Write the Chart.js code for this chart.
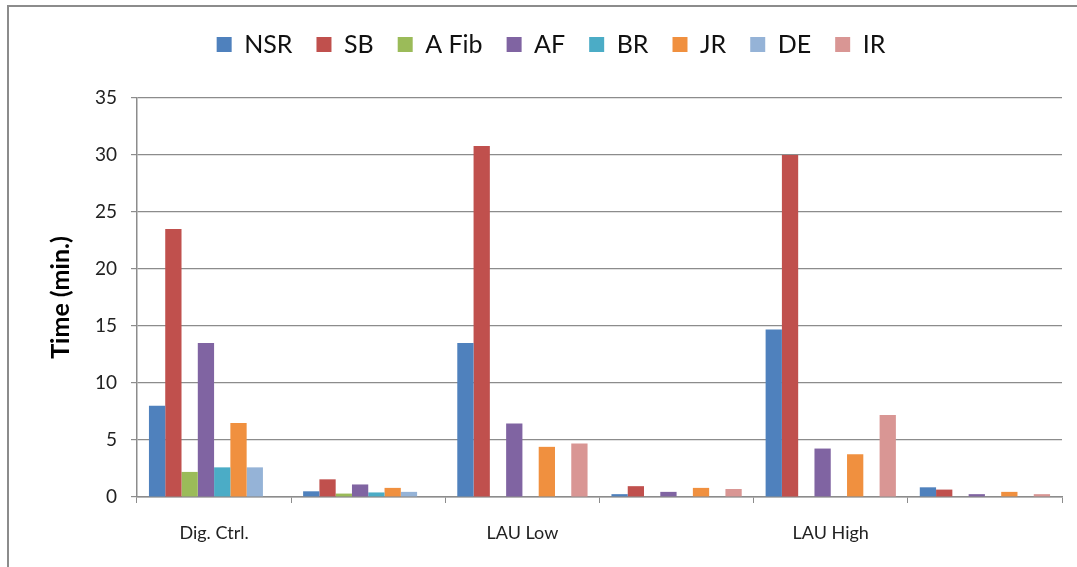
<!DOCTYPE html>
<html>
<head>
<meta charset="utf-8">
<script src="https://cdn.jsdelivr.net/npm/chart.js@4.4.1/dist/chart.umd.min.js"></script>
<style>
  html, body { margin: 0; padding: 0; background: #fff; }
  #wrap { position: relative; width: 1077px; height: 567px; }
  #frame {
    position: absolute; left: 7px; top: 5px; right: 0; bottom: 0;
    border-top: 2px solid #8c8c8c; border-left: 2px solid #8c8c8c;
    pointer-events: none;
  }
</style>
</head>
<body>
<div id="wrap">
  <canvas id="rhythmChart" width="1077" height="567"></canvas>
  <div id="frame"></div>
</div>
<script>
// time spent in each rhythm, minutes
var groups = ['Dig. Ctrl.', '', 'LAU Low', '', 'LAU High', ''];

var nsr  = [8.0, 0.5, 13.5, 0.25, 14.7, 0.85];
var sb   = [23.5, 1.55, 30.8, 0.95, 30.0, 0.65];
var aFib = [2.2, 0.3, 0, 0, 0, 0];
var af   = [13.5, 1.1, 6.45, 0.45, 4.25, 0.25];
var br   = [2.6, 0.4, 0, 0, 0, 0];
var jr   = [6.5, 0.8, 4.4, 0.8, 3.75, 0.45];
var de   = [2.6, 0.45, 0, 0, 0, 0];
var ir   = [0, 0, 4.7, 0.7, 7.2, 0.25];

var yTicks = [0, 5, 10, 15, 20, 25, 30, 35];

var series = [
	{label: 'NSR',   data: nsr,  color: '#4f81bd'},
	{label: 'SB',    data: sb,   color: '#c0504d'},
	{label: 'A Fib', data: aFib, color: '#9bbb59'},
	{label: 'AF',    data: af,   color: '#8064a2'},
	{label: 'BR',    data: br,   color: '#4bacc6'},
	{label: 'JR',    data: jr,   color: '#f0903f'},
	{label: 'DE',    data: de,   color: '#95b3d7'},
	{label: 'IR',    data: ir,   color: '#d99694'}
];

var FONT = 'Lato, "Liberation Sans", sans-serif';

// legend band is taller than chart.js would make it
var legendBand = {
	id: 'legendBand',
	afterInit: function(chart) {
		var lg = chart.legend;
		var fit = lg.fit;
		lg.fit = function() {
			fit.call(this);
			this.height = 90;
		};
	}
};

var datasets = series.map(function(s) {
	return {
		label: s.label,
		data: s.data,
		backgroundColor: s.color,
		borderWidth: 0,
		categoryPercentage: 0.845,
		barPercentage: 1.0
	};
});

new Chart(document.getElementById('rhythmChart'), {
	type: 'bar',
	data: {labels: groups, datasets: datasets},
	plugins: [legendBand],
	options: {
		responsive: false,
		animation: false,
		layout: {padding: {left: 40, right: 15, top: 8, bottom: 0}},
		plugins: {
			tooltip: {enabled: false},
			legend: {
				position: 'top',
				labels: {
					boxWidth: 15,
					boxHeight: 15,
					padding: 24,
					color: '#111',
					font: {family: FONT, size: 25}
				}
			}
		},
		scales: {
			x: {
				grid: {
					offset: true,
					drawOnChartArea: false,
					drawTicks: true,
					tickLength: 6,
					color: '#8c8c8c'
				},
				border: {color: '#8c8c8c', width: 1.5},
				ticks: {
					color: '#222',
					padding: 19,
					font: {family: FONT, size: 18}
				},
				afterFit: function(scale) { scale.height = 70; }
			},
			y: {
				min: 0,
				max: 35,
				afterBuildTicks: function(scale) {
					scale.ticks = yTicks.map(function(v) { return {value: v}; });
				},
				grid: {
					color: '#8c8c8c',
					lineWidth: 1.2,
					tickLength: 6
				},
				border: {color: '#8c8c8c', width: 1.5},
				ticks: {
					color: '#222',
					padding: 14,
					font: {family: FONT, size: 19}
				},
				title: {
					display: true,
					text: 'Time (min.)',
					color: '#000',
					padding: {top: 6, bottom: 0},
					font: {family: FONT, size: 25, weight: 'bold'}
				},
				afterFit: function(scale) { scale.width = 97; }
			}
		}
	}
});
</script>
</body>
</html>
